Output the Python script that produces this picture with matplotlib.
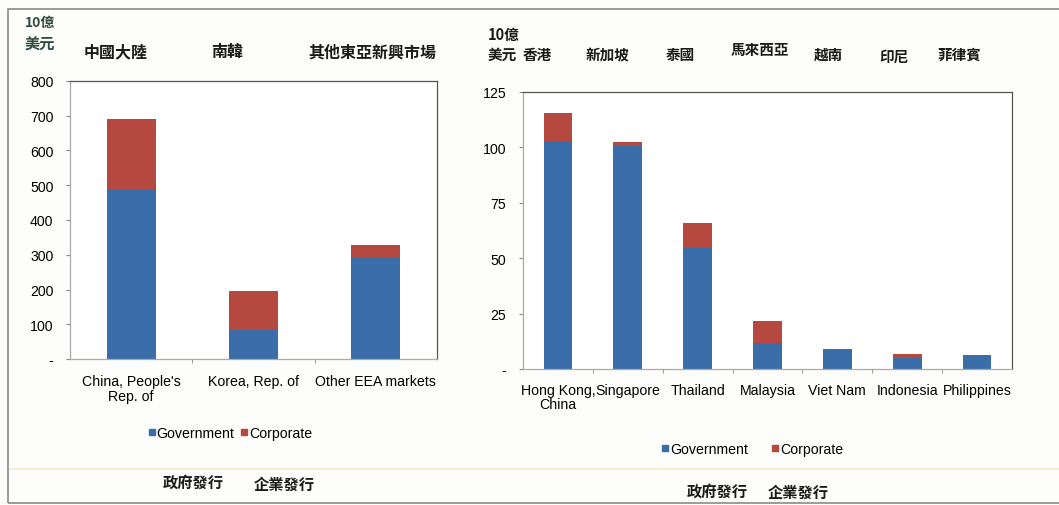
import numpy as np
import matplotlib.pyplot as plt
from matplotlib.patches import Rectangle
from matplotlib.lines import Line2D

plt.rcParams['font.family'] = ['Liberation Sans', 'Noto Sans CJK TC', 'DejaVu Sans']
CJK = ['Noto Sans CJK TC', 'DejaVu Sans']

# Bond issuance, billions of USD
north_names = ["China, People's\nRep. of", "Korea, Rep. of", "Other EEA markets"]
north_zh = ["中國大陸", "南韓", "其他東亞新興市場"]
north_gov = [487, 83, 294]
north_corp = [203, 113, 35]

south_names = ["Hong Kong,\nChina", "Singapore", "Thailand", "Malaysia",
               "Viet Nam", "Indonesia", "Philippines"]
south_zh = ["香港", "新加坡", "泰國", "馬來西亞", "越南", "印尼", "菲律賓"]
south_gov = [103, 100.5, 55, 11.6, 8.6, 5, 6.1]
south_corp = [12.7, 2, 11, 10, 0.2, 1.7, 0.3]

north_ticks = [0, 100, 200, 300, 400, 500, 600, 700, 800]
south_ticks = [0, 25, 50, 75, 100, 125]

BLUE = "#3b6ea9"
RED = "#b5483f"
FS = 10.2

W, H = 1059, 506
fig = plt.figure(figsize=(W / 100, H / 100), dpi=100)
fig.patch.set_facecolor("#fdfdfc")


def px(x, y):
    return x / W, 1 - y / H


def stacked(ax, names, gov, corp, ticks, width, pad):
    x = np.arange(len(names))
    ax.bar(x, gov, width, color=BLUE, label="Government")
    ax.bar(x, corp, width, bottom=gov, color=RED, label="Corporate")
    ax.set_xlim(-0.5, len(names) - 0.5)
    ax.set_ylim(ticks[0], ticks[-1])
    ax.set_yticks(ticks)
    ax.set_yticklabels(["-"] + [str(t) for t in ticks[1:]])
    ax.set_xticks(x)
    ax.set_xticklabels(names, fontsize=FS, linespacing=1.05)
    ax.set_xticks(x[:-1] + 0.5, minor=True)
    ax.tick_params(axis="x", which="major", length=0, pad=pad)
    ax.tick_params(axis="x", which="minor", length=3, color="#888888")
    ax.tick_params(axis="y", length=3, color="#888888", labelsize=FS, pad=9)
    for s in ax.spines.values():
        s.set_color("#555555")
        s.set_linewidth(0.9)
    ax.spines["left"].set_color("#aaaaaa")
    ax.spines["bottom"].set_color("#aaaaaa")
    ax.set_facecolor("white")


l, b = px(70, 360)
ax1 = fig.add_axes([l, b, 367 / W, 278 / H])
stacked(ax1, north_names, north_gov, north_corp, north_ticks, 0.4, 11)

l, b = px(523, 370)
ax2 = fig.add_axes([l, b, 489 / W, 277 / H])
stacked(ax2, south_names, south_gov, south_corp, south_ticks, 0.41, 10)

# unit labels and Chinese category names above each panel
fig.text(*px(40, 23), "10億", family=CJK, fontsize=10, weight="bold",
         color="#2f4d3c", ha="center", va="center")
fig.text(*px(40, 45), "美元", family=CJK, fontsize=11, weight="bold",
         color="#2f4d3c", ha="center", va="center")
for name, xc in zip(north_zh, [116, 227, 372]):
    fig.text(*px(xc, 52), name, family=CJK, fontsize=11.5, weight="bold",
             ha="center", va="center", color="#1a1a1a")

fig.text(*px(488, 35), "10億", family=CJK, fontsize=10.5, weight="bold",
         ha="left", va="center", color="#1a1a1a")
fig.text(*px(488, 55), "美元", family=CJK, fontsize=10.5, weight="bold",
         ha="left", va="center", color="#1a1a1a")
for name, xc, yc in zip(south_zh, [537, 608, 680, 760, 828, 894, 959],
                        [55, 55, 55, 50, 55, 57, 55]):
    fig.text(*px(xc, yc), name, family=CJK, fontsize=10.5, weight="bold",
             ha="center", va="center", color="#1a1a1a")

# legends
handles = [Line2D([], [], marker="s", ls="", color=BLUE, markersize=4),
           Line2D([], [], marker="s", ls="", color=RED, markersize=4)]
for xc, yc, gap in [(230, 434, 0.4), (752, 450, 1.6)]:
    fig.legend(handles, ["Government", "Corporate"], loc="center",
               bbox_to_anchor=px(xc, yc), ncol=2, frameon=False,
               fontsize=FS, handletextpad=0.05, columnspacing=gap,
               handlelength=0.6)

for txt, xc, yc in [("政府發行", 193, 483), ("企業發行", 284, 485),
                    ("政府發行", 717, 492), ("企業發行", 798, 493)]:
    fig.text(*px(xc, yc), txt, family=CJK, fontsize=11, weight="bold",
             ha="center", va="center", color="#1a1a1a")

# outer frame and faint rule
fig.add_artist(Rectangle(px(8, 504), (W + 5 - 8) / W, (504 - 10) / H,
                         transform=fig.transFigure, fill=False,
                         edgecolor="#8a8a8a", linewidth=1.2))
fig.add_artist(Line2D([10 / W, 1], [1 - 470 / H] * 2, color="#f4f1cf",
                      linewidth=1.5, transform=fig.transFigure))

fig.savefig("out.png", dpi=100, facecolor=fig.get_facecolor())
